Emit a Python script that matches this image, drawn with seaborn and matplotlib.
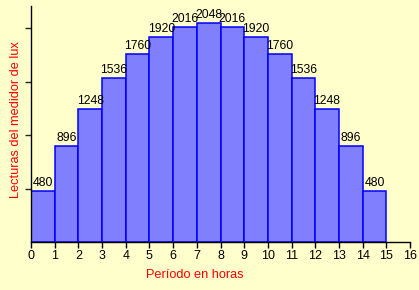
import matplotlib
matplotlib.use("Agg")
import matplotlib.pyplot as plt
import seaborn as sns
import numpy as np

hours = list(range(15))
readings = [480, 896, 1248, 1536, 1760, 1920, 2016, 2048, 2016, 1920, 1760, 1536, 1248, 896, 480]
xticks = list(range(17))
yticks = [500, 1000, 1500, 2000]
xlabel = "Período en horas"
ylabel = "Lecturas del medidor de lux"

sns.set_style("white")
plt.rcParams['font.family'] = ['Liberation Sans', 'DejaVu Sans']

bg = "#FFFFCC"
fig = plt.figure(figsize=(4.19, 2.90), dpi=100, facecolor=bg)
ax = fig.add_axes([31/419, 1-242/290, (410-31)/419, (242-6)/290])
ax.set_facecolor(bg)

centers = [h + 0.5 for h in hours]
sns.barplot(x=centers, y=readings, native_scale=True, width=1, ax=ax,
            color="#8080FF", saturation=1, edgecolor="#0000FF", linewidth=1.1)

for c, v in zip(centers, readings):
    ax.annotate(str(v), (c, v), xytext=(0, 1.5), textcoords="offset points",
                ha="center", va="bottom", fontsize=8.8, color="black")

ax.set_xlim(0, 16)
ax.set_ylim(0, 2210)
ax.set_xticks(xticks)
ax.set_xticklabels([str(t) for t in xticks])
ax.set_yticks(yticks)
ax.set_yticklabels([])
ax.tick_params(axis="x", direction="out", length=4, width=1, pad=2, labelsize=9, colors="black", bottom=True)
ax.tick_params(axis="y", direction="out", length=4, width=1, left=True)
for s in ["top", "right"]:
    ax.spines[s].set_visible(False)
for s in ["left", "bottom"]:
    ax.spines[s].set_color("black")
    ax.spines[s].set_linewidth(1)
    ax.spines[s].set_zorder(5)
ax.set_xlabel("")
ax.set_ylabel("")

fig.text(195/419, 1-275/290, xlabel, ha="center", va="center", color="#FF0000", fontsize=9.2)
fig.text(16/419, 1-120/290, ylabel, ha="center", va="center", rotation=90, color="#FF0000", fontsize=9.2)

fig.savefig("out.png", dpi=100, facecolor=bg)
